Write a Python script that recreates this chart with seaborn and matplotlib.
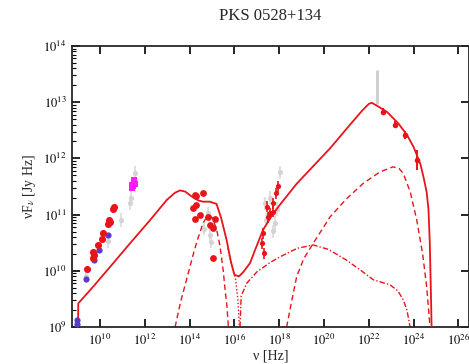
import numpy as np
import pandas as pd
import seaborn as sns
import matplotlib
matplotlib.use("Agg")
from matplotlib import pyplot as plt
from matplotlib import ticker

# values are log10(nu [Hz]) and log10(nuF_nu [Jy Hz])
radio_red_nu = [9.43, 9.68, 9.72, 9.70, 9.92, 10.07, 10.15, 10.35, 10.40, 10.44, 10.58, 10.62]
radio_red_f = [10.03, 10.22, 10.28, 10.33, 10.46, 10.57, 10.67, 10.84, 10.90, 10.86, 11.10, 11.14]
radio_purple_nu = [8.97, 8.97, 9.37, 9.72, 9.94, 10.37]
radio_purple_f = [9.05, 9.13, 9.85, 10.19, 10.37, 10.64]
magenta_nu = [11.42, 11.45, 11.50, 11.52, 11.55, 11.47]
magenta_f = [11.48, 11.53, 11.58, 11.62, 11.55, 11.51]
gray_nu = [9.38, 10.34, 10.94, 11.56, 11.34, 11.40, 14.80, 14.90, 14.95, 14.65]
gray_f = [9.90, 10.53, 10.90, 11.74, 11.21, 11.30, 11.02, 10.64, 10.52, 10.75]

opt_nu = [14.61, 14.24, 14.30, 14.17, 14.30, 14.24, 14.46, 14.83, 15.13, 14.91, 15.06, 15.06]
opt_f = [11.38, 11.35, 11.33, 11.11, 11.17, 10.93, 10.99, 10.96, 10.93, 10.81, 10.76, 10.22]

xray_nu = [17.96, 17.85, 17.70, 17.44, 17.59, 17.70, 17.50, 17.29, 17.22, 17.30]
xray_f = [11.50, 11.38, 11.20, 11.14, 11.02, 11.05, 10.95, 10.67, 10.49, 10.31]
xray_gray_nu = [18.05, 17.60, 17.80, 17.40, 17.90, 17.35, 17.70]
xray_gray_f = [11.75, 11.30, 10.85, 10.90, 11.10, 11.20, 10.70]

gamma_nu = [22.65, 23.17, 23.62, 24.14]
gamma_f = [12.83, 12.60, 12.42, 11.97]
gamma_err = [0.06, 0.06, 0.07, 0.18]
egret_nu = [22.36]
egret_f = [13.27]
egret_err = [0.30]

total_nu = [9.02, 9.03, 9.7, 10.45, 11.3, 12.23, 12.98, 13.35, 13.57, 13.8, 14.1, 14.4, 14.6, 14.9,
            15.2, 15.4, 15.65, 15.85, 16.0, 16.2, 16.4, 16.7, 16.92, 17.28, 17.7, 18.04, 18.78,
            20.27, 21.16, 21.7, 22.0, 22.13, 22.35, 22.8, 23.3, 23.7, 24.0, 24.3, 24.45, 24.58,
            24.66, 24.72, 24.77, 24.8]
total_f = [9.0, 9.42, 9.72, 10.07, 10.47, 10.9, 11.26, 11.39, 11.43, 11.41, 11.32, 11.25, 11.23, 11.23,
           11.19, 10.95, 10.55, 10.15, 9.93, 9.9, 9.98, 10.14, 10.37, 10.73, 11.0, 11.18, 11.55,
           12.18, 12.6, 12.85, 12.97, 12.99, 12.94, 12.83, 12.63, 12.42, 12.2, 11.9, 11.65, 11.4,
           11.1, 10.5, 9.6, 9.0]
disk_nu = [13.35, 13.6, 13.94, 14.2, 14.39, 14.6, 14.8, 15.0, 15.2, 15.36, 15.5, 15.6, 15.66, 15.73]
disk_f = [9.0, 9.45, 9.96, 10.35, 10.6, 10.85, 10.98, 10.95, 10.75, 10.43, 10.0, 9.6, 9.4, 9.0]
sync_nu = [15.7, 15.9, 16.05, 16.15, 16.22]
sync_f = [10.4, 10.05, 9.85, 9.5, 9.0]
ssc_nu = [16.25, 16.3, 16.55, 17.0, 17.6, 18.04, 18.8, 19.52, 20.2, 21.0, 21.6, 22.2, 22.95, 23.3,
          23.54, 23.7, 23.84]
ssc_f = [9.0, 9.55, 9.78, 9.98, 10.15, 10.25, 10.4, 10.46, 10.38, 10.19, 10.02, 9.84, 9.75, 9.64,
         9.48, 9.3, 9.0]
ec_nu = [18.33, 18.55, 18.78, 19.1, 19.52, 20.27, 21.0, 21.76, 22.5, 23.08, 23.35, 23.54, 23.85,
         24.14, 24.4, 24.58, 24.73]
ec_f = [9.0, 9.45, 9.9, 10.22, 10.49, 10.96, 11.28, 11.56, 11.76, 11.85, 11.82, 11.73, 11.4,
        10.9, 10.3, 9.72, 9.0]

RED = "#e8141b"


def frame(nu, f):
    return pd.DataFrame({"nu": 10 ** np.array(nu), "f": 10 ** np.array(f)})


sns.set_style("ticks")
plt.rcParams["font.family"] = ["Liberation Serif", "DejaVu Serif"]
plt.rcParams["mathtext.fontset"] = "stix"

fig = plt.figure(figsize=(4.69, 3.64), dpi=100)
ax = fig.add_axes([72 / 469, 37 / 364, 397 / 469, 281 / 364])
ax.set(xscale="log", yscale="log")

# gray archival points and error bars
for nu, f in [(gray_nu, gray_f), (xray_gray_nu, xray_gray_f)]:
    d = frame(nu, f)
    ax.errorbar(d.nu, d.f, yerr=[d.f * (1 - 10 ** -0.12), d.f * (10 ** 0.12 - 1)], fmt="none",
                ecolor="#dadada", elinewidth=1.2, zorder=1)
    sns.scatterplot(data=d, x="nu", y="f", ax=ax, color="#d4d4d4", s=14, linewidth=0, zorder=1)
d = frame(egret_nu, egret_f)
e = np.array(egret_err)
ax.errorbar(d.nu, d.f, yerr=[d.f * (1 - 10 ** -e), d.f * (10 ** e - 1)], fmt="none",
            ecolor="#cccccc", elinewidth=2, zorder=1)

# model components
sns.lineplot(data=frame(total_nu, total_f), x="nu", y="f", ax=ax, sort=False, estimator=None,
             color=RED, lw=1.3, zorder=3)
sns.lineplot(data=frame(disk_nu, disk_f), x="nu", y="f", ax=ax, sort=False, estimator=None,
             color=RED, lw=1.0, linestyle=(0, (4, 2.5)), zorder=2)
sns.lineplot(data=frame(sync_nu, sync_f), x="nu", y="f", ax=ax, sort=False, estimator=None,
             color=RED, lw=1.0, linestyle=(0, (1, 1.5)), zorder=2)
sns.lineplot(data=frame(ssc_nu, ssc_f), x="nu", y="f", ax=ax, sort=False, estimator=None,
             color=RED, lw=1.0, linestyle=(0, (4, 1.5, 1, 1.5)), zorder=2)
sns.lineplot(data=frame(ec_nu, ec_f), x="nu", y="f", ax=ax, sort=False, estimator=None,
             color=RED, lw=1.0, linestyle=(0, (4, 2.5)), zorder=2)

# observed points
sns.scatterplot(data=frame(radio_purple_nu, radio_purple_f), x="nu", y="f", ax=ax,
                color="#5b3cc8", s=20, linewidth=0, zorder=4)
sns.scatterplot(data=frame(radio_red_nu, radio_red_f), x="nu", y="f", ax=ax,
                color=RED, s=26, linewidth=0, zorder=5)
sns.scatterplot(data=frame(magenta_nu, magenta_f), x="nu", y="f", ax=ax, marker="s",
                color="#ff1aff", s=20, linewidth=0, zorder=5)
sns.scatterplot(data=frame(opt_nu, opt_f), x="nu", y="f", ax=ax,
                color=RED, s=24, linewidth=0, zorder=5)

d = frame(xray_nu, xray_f)
ax.errorbar(d.nu, d.f, yerr=[d.f * (1 - 10 ** -0.1), d.f * (10 ** 0.1 - 1)], fmt="none",
            ecolor=RED, elinewidth=1.2, zorder=5)
sns.scatterplot(data=d, x="nu", y="f", ax=ax, color=RED, s=14, linewidth=0, zorder=5)

d = frame(gamma_nu, gamma_f)
e = np.array(gamma_err)
ax.errorbar(d.nu, d.f, yerr=[d.f * (1 - 10 ** -e), d.f * (10 ** e - 1)], fmt="none",
            ecolor=RED, elinewidth=1.4, zorder=5)
sns.scatterplot(data=d, x="nu", y="f", ax=ax, color=RED, s=16, linewidth=0, zorder=5)

ax.set_xlim(10 ** 8.75, 10 ** 26.47)
ax.set_ylim(1e9, 1e14)
ax.xaxis.set_major_locator(ticker.FixedLocator(10.0 ** np.arange(10, 27, 2)))
ax.xaxis.set_minor_locator(ticker.NullLocator())
ax.xaxis.set_major_formatter(ticker.FuncFormatter(lambda v, p: r"$10^{%d}$" % round(np.log10(v))))
ax.yaxis.set_major_locator(ticker.LogLocator(base=10, numticks=10))
ax.yaxis.set_minor_locator(ticker.LogLocator(base=10, subs=np.arange(2, 10), numticks=10))
ax.yaxis.set_major_formatter(ticker.FuncFormatter(lambda v, p: r"$10^{%d}$" % round(np.log10(v))))
ax.tick_params(which="both", direction="in", top=True, right=True, labelsize=9, colors="black")
ax.tick_params(which="major", length=6, width=1.2, pad=4)
ax.tick_params(which="minor", length=3, width=0.8)
ax.tick_params(axis="y", which="minor", right=False)
for s in ax.spines.values():
    s.set_linewidth(1.3)

ax.set_title("PKS 0528+134", fontsize=12, pad=19)
ax.set_xlabel(r"ν [Hz]", fontsize=10, labelpad=0.5)
ax.set_ylabel(r"νF$_\nu$ [Jy Hz]", fontsize=10, labelpad=4)

fig.savefig("out.png", dpi=100)
